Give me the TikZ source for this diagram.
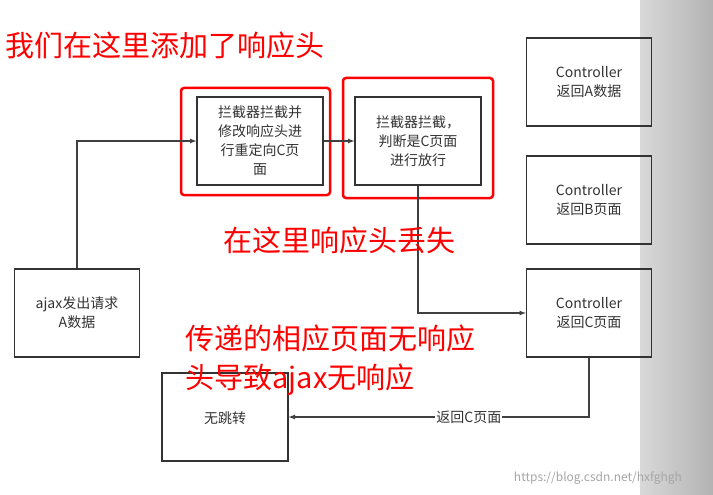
\documentclass[tikz,border=0pt]{standalone}
\usepackage{fontspec}
\setmainfont{Noto Sans CJK SC}
\usetikzlibrary{positioning}
\tikzstyle{block} = [draw=black!80, line width=1.2pt, rectangle, minimum width=125pt, minimum height=88pt, align=center, font=\fontsize{14}{19}\selectfont, text=black!80]
\tikzstyle{redframe} = [draw=red, line width=2.5pt, rounded corners=3pt]
\tikzstyle{note} = [text=red, anchor=west, align=left, font=\fontsize{29}{39}\selectfont]
\tikzstyle{link} = [draw=black!75, line width=1.2pt, ->, >=latex]
\begin{document}
\begin{tikzpicture}[x=1pt, y=-1pt]
\useasboundingbox (0,0) rectangle (713,495);
\fill[white] (0,0) rectangle (713,495);
\shade[left color=black!15, right color=black!30] (640,0) rectangle (713,495);

\node [block] (ajax) at (77,313) {ajax发出请求\\A数据};
\node [block, minimum width=126pt] (int1) at (260,141) {拦截器拦截并\\修改响应头进\\行重定向C页\\面};
\node [block, minimum width=126pt] (int2) at (418,141) {拦截器拦截，\\判断是C页面\\进行放行};
\node [block] (ctrla) at (589,82) {Controller\\返回A数据};
\node [block] (ctrlb) at (589,200) {Controller\\返回B页面};
\node [block] (ctrlc) at (589,313) {Controller\\返回C页面};
\node [block, minimum width=126pt] (none) at (225,417) {};
\node [font=\fontsize{14}{19}\selectfont, text=black!80] (nonetext) at (225,418) {无跳转};

\draw [redframe] (181,88) rectangle (330,195);
\draw [redframe] (343,78) rectangle (493,198);

\draw [link] (ajax.north) |- (int1.west);
\draw [link] (int1) -- (int2);
\draw [link] (int2.south) |- (ctrlc.west);
\draw [link] (ctrlc.south) |- node [pos=0.7, fill=white, inner sep=1pt, font=\fontsize{14}{19}\selectfont, text=black!80] {返回C页面} (none.east);

\node [note] (n1) at (2,45) {我们在这里添加了响应头};
\node [note] (n2) at (220,240) {在这里响应头丢失};
\node [note] (n3) at (182,360) {传递的相应页面无响应\\头导致ajax无响应};
\node [text=black!35, font=\fontsize{12}{14}\selectfont] (wm) at (598,478) {https://blog.csdn.net/hxfghgh};
\end{tikzpicture}
\end{document}
